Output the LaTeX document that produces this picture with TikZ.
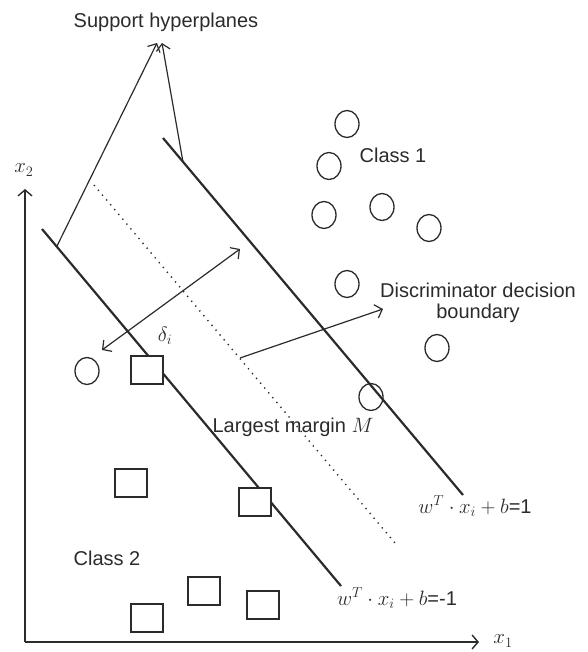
\documentclass[tikz,border=0pt]{standalone}
\usepackage{fontspec}
\setmainfont{Liberation Sans}
\usetikzlibrary{arrows.meta,shapes.geometric,calc}
\definecolor{ink}{HTML}{2B2B2B}
\begin{document}
\begin{tikzpicture}[x=1pt,y=-1pt,
  every node/.style={text=ink,font=\fontsize{20}{23}\selectfont},
  hyper/.style={draw=ink,line width=2.2pt},
  axis/.style={draw=ink,line width=2pt,-{Straight Barb[length=6pt,width=14pt,line width=1.4pt]}},
  thinarrow/.style={draw=ink,line width=1.2pt,-{Straight Barb[length=6.5pt,width=14pt,line width=1.2pt]}},
  dotline/.style={draw=ink,line width=1.4pt,dash pattern=on 1.3pt off 5pt},
  cls1/.style={ellipse,draw=ink,line width=1.3pt,minimum width=24pt,minimum height=27pt,inner sep=0pt},
  cls2/.style={rectangle,draw=ink,line width=2pt,minimum width=32pt,minimum height=28pt,inner sep=0pt},
  mathlbl/.style={font=\fontsize{22}{25}\selectfont}]
\useasboundingbox (0,0) rectangle (587,652);
% axes
\coordinate (O) at (25,642);
\coordinate (ytip) at (25,189);
\coordinate (xtip) at (479,642);
\draw[axis] (O) -- (ytip);
\draw[axis] (O) -- (xtip);
\node[mathlbl] (lx2) at (24,170) {$x_2$};
\node[mathlbl] (lx1) at (503,641) {$x_1$};
% hyperplanes
\coordinate (h1a) at (42,229);
\coordinate (h1b) at (341,586);
\coordinate (h2a) at (163,138);
\coordinate (h2b) at (463,495);
\coordinate (dma) at (94,185);
\coordinate (dmb) at (395,543);
\draw[hyper] (h1a) -- (h1b);
\draw[hyper] (h2a) -- (h2b);
\draw[dotline] (dma) -- (dmb);
% support hyperplanes label and arrows
\node (sup) at (166,22) {Support hyperplanes};
\coordinate (s1) at (57,246);
\coordinate (s1t) at (157,43);
\coordinate (s2) at (183,162);
\coordinate (s2t) at (162,43);
\draw[thinarrow] (s1) -- (s1t);
\draw[thinarrow] (s2) -- (s2t);
% margin arrow
\coordinate (da) at (240,249);
\coordinate (db) at (102,350);
\draw[thinarrow,{Straight Barb[length=6.5pt,width=14pt,line width=1.2pt]}-{Straight Barb[length=6.5pt,width=14pt,line width=1.2pt]}] (da) -- (db);
\node[mathlbl] (delta) at (165,336) {$\delta_i$};
% decision boundary arrow
\coordinate (dbs) at (240,358);
\coordinate (dbt) at (383,309);
\draw[thinarrow] (dbs) -- (dbt);
\node[align=center] (disc) at (478,303) {Discriminator decision\\[-2pt]boundary};
% class 1 circles
\node[cls1] (c1) at (347,124) {};
\node[cls1] (c2) at (329,166) {};
\node[cls1] (c3) at (324,215) {};
\node[cls1] (c4) at (382,207) {};
\node[cls1] (c5) at (429,228) {};
\node[cls1] (c6) at (347,284) {};
\node[cls1] (c7) at (437,348) {};
\node[cls1] (c8) at (371,397) {};
\node[cls1] (c9) at (87,371) {};
\node (class1) at (393,155) {Class 1};
% class 2 squares
\node[cls2,fill=white] (q1) at (147,370) {};
\node[cls2] (q2) at (131,483) {};
\node[cls2,fill=white] (q3) at (255,502) {};
\node[cls2] (q4) at (147,618) {};
\node[cls2] (q5) at (204,591) {};
\node[cls2] (q6) at (263,605) {};
\node (class2) at (107,558) {Class 2};
% labels
\node (lm) at (293,427) {Largest margin \fontsize{22}{25}\selectfont$M$};
\node (eq1) at (475,506) {\fontsize{21}{24}\selectfont$w^T\cdot x_i+b$\fontsize{20}{23}\selectfont=1};
\node (eq2) at (397,598) {\fontsize{21}{24}\selectfont$w^T\cdot x_i+b$\fontsize{20}{23}\selectfont=-1};
\end{tikzpicture}
\end{document}
